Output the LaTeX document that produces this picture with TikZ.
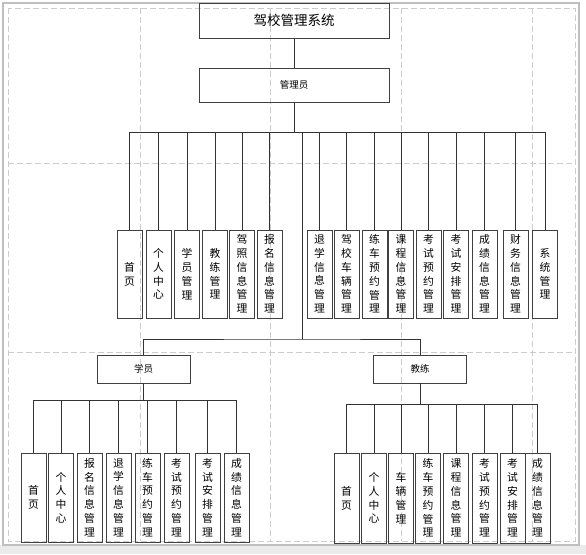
\documentclass[tikz,border=0pt]{standalone}
\usepackage{fontspec}
\setmainfont{Noto Sans CJK SC}

\begin{document}
\begin{tikzpicture}[x=1pt,y=-1pt,
  box/.style={draw=black!75,line width=0.9pt,inner sep=0pt},
  modbox/.style={box,minimum width=25pt,minimum height=88pt,align=center,font=\fontsize{10.8}{13.8}\selectfont},
  rolebox/.style={box,minimum width=93pt,minimum height=28pt,font=\fontsize{9.5}{11}\selectfont},
  link/.style={draw=black!80,line width=0.9pt},
  pagegrid/.style={draw=black!20,line width=0.7pt,dash pattern=on 6pt off 3pt}]
  \useasboundingbox (0,0) rectangle (586,554);
  \fill[black!8] (0,545) rectangle (586,554);
  \draw[black!25,line width=1.2pt] (3,3) rectangle (579,545);
  \draw[pagegrid] (8,8) rectangle (575,541);
  \foreach \gx in {140,270,401,532}
    \draw[pagegrid] (\gx,8) -- (\gx,541);
  \foreach \gy in {163,352}
    \draw[pagegrid] (8,\gy) -- (575,\gy);

  \node[box,minimum width=190pt,minimum height=35pt,font=\fontsize{13.5}{15}\selectfont] (sys) at (294,20.5) {驾校管理系统};
  \node[box,minimum width=190pt,minimum height=34pt,font=\fontsize{9.5}{11}\selectfont] (adm) at (294,85) {管理员};

  \foreach \x/\t [count=\i] in {129.5/{首\\页}, 158.5/{个\\人\\中\\心}, 187/{学\\员\\管\\理}, 215/{教\\练\\管\\理},
      242/{驾\\照\\信\\息\\管\\理}, 269.5/{报\\名\\信\\息\\管\\理}, 319.5/{退\\学\\信\\息\\管\\理},
      346.5/{驾\\校\\车\\辆\\管\\理}, 374.5/{练\\车\\预\\约\\管\\理}, 401/{课\\程\\信\\息\\管\\理},
      428.5/{考\\试\\预\\约\\管\\理}, 456/{考\\试\\安\\排\\管\\理}, 484.5/{成\\绩\\信\\息\\管\\理},
      515.5/{财\\务\\信\\息\\管\\理}, 545/{系\\统\\管\\理}}
    \node[modbox] (a\i) at (\x,274) {\t};

  \node[rolebox] (stu) at (143.5,369) {学员};
  \node[rolebox] (coa) at (420,369) {教练};

  \foreach \x/\t [count=\i] in {33.5/{首\\页}, 61/{个\\人\\中\\心}, 89.5/{报\\名\\信\\息\\管\\理},
      118.5/{退\\学\\信\\息\\管\\理}, 147.5/{练\\车\\预\\约\\管\\理}, 176.5/{考\\试\\预\\约\\管\\理},
      207.5/{考\\试\\安\\排\\管\\理}, 236.5/{成\\绩\\信\\息\\管\\理}}
    \node[modbox,minimum height=89pt] (s\i) at (\x,497.5) {\t};

  \foreach \x/\t [count=\i] in {346.5/{首\\页}, 374/{个\\人\\中\\心}, 401/{车\\辆\\管\\理},
      428/{练\\车\\预\\约\\管\\理}, 456/{课\\程\\信\\息\\管\\理}, 484.5/{考\\试\\预\\约\\管\\理},
      512.5/{考\\试\\安\\排\\管\\理}, 537.5/{成\\绩\\信\\息\\管\\理}}
    \node[modbox,minimum height=90pt] (c\i) at (\x,498) {\t};

  \coordinate (abus) at (294,132);
  \coordinate (split) at (302,339);
  \coordinate (sbus) at (143.5,400);
  \coordinate (cbus) at (420,404);

  \draw[link] (sys) -- (adm);
  \draw[link] (adm) -- (abus);
  \draw[link] (a1.north|-abus) -- (a15.north|-abus);
  \foreach \i in {1,...,15}
    \draw[link] (a\i.north|-abus) -- (a\i.north);
  \draw[link] (split|-abus) -- (split);
  \draw[link] (stu.north) |- (split) -| (coa.north);

  \draw[link] (stu) -- (sbus);
  \draw[link] (s1.north|-sbus) -- (s8.north|-sbus);
  \foreach \i in {1,...,8}
    \draw[link] (s\i.north|-sbus) -- (s\i.north);

  \draw[link] (coa) -- (cbus);
  \draw[link] (c1.north|-cbus) -- (c8.north|-cbus);
  \foreach \i in {1,...,8}
    \draw[link] (c\i.north|-cbus) -- (c\i.north);
\end{tikzpicture}
\end{document}
